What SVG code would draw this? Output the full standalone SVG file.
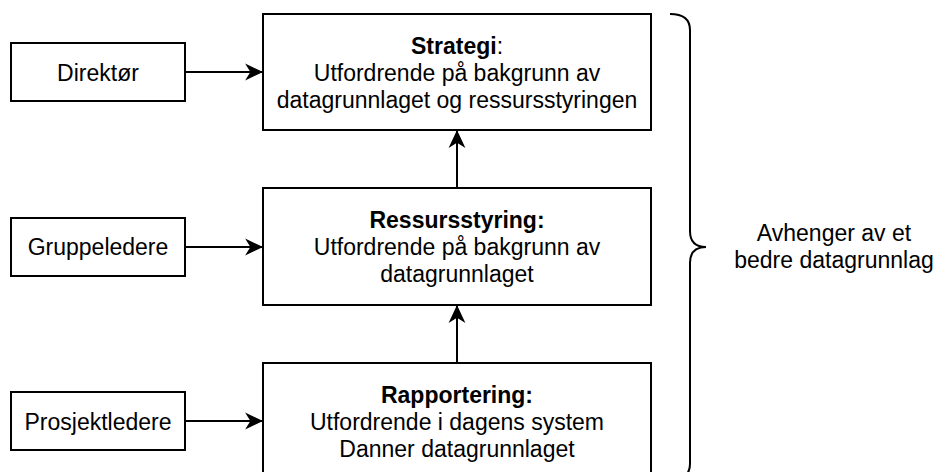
<svg xmlns="http://www.w3.org/2000/svg" width="936" height="472" viewBox="0 0 936 472">
  <style>
    .box { fill: #ffffff; stroke: #000000; stroke-width: 2; }
    .lbl { font-family: "Liberation Sans", Arial, Helvetica, sans-serif; font-size: 23px; fill: #000000; text-anchor: middle; }
    .b { font-weight: bold; }
    .edge { fill: none; stroke: #000000; stroke-width: 2; }
  </style>
  <defs>
    <marker id="arrow" markerUnits="userSpaceOnUse" markerWidth="20" markerHeight="20" viewBox="-18 -9 19 18" refX="0" refY="0" orient="auto">
      <path d="M0,0 L-17,-8 L-12,0 L-17,8 Z" fill="#000000" stroke="none"/>
    </marker>
  </defs>
  <rect width="936" height="472" fill="#ffffff"/>

  <g id="connectors">
    <path class="edge" d="M185,72 L263,72" marker-end="url(#arrow)"/>
    <path class="edge" d="M185,247 L263,247" marker-end="url(#arrow)"/>
    <path class="edge" d="M185,421 L263,421" marker-end="url(#arrow)"/>
    <path class="edge" d="M457,188 L457,130" marker-end="url(#arrow)"/>
    <path class="edge" d="M457,363 L457,305" marker-end="url(#arrow)"/>
  </g>

  <g id="direktor">
    <rect class="box" x="11" y="43" width="174" height="58"/>
    <text class="lbl" x="98" y="81">Direktør</text>
  </g>
  <g id="gruppeledere">
    <rect class="box" x="11" y="218" width="174" height="58"/>
    <text class="lbl" x="98" y="255">Gruppeledere</text>
  </g>
  <g id="prosjektledere">
    <rect class="box" x="11" y="392" width="174" height="58"/>
    <text class="lbl" x="98" y="430">Prosjektledere</text>
  </g>

  <g id="strategi">
    <rect class="box" x="263" y="14" width="388" height="116"/>
    <text class="lbl" x="457" y="54"><tspan class="b">Strategi</tspan>:</text>
    <text class="lbl" x="457" y="81">Utfordrende på bakgrunn av</text>
    <text class="lbl" x="457" y="108">datagrunnlaget og ressursstyringen</text>
  </g>
  <g id="ressursstyring">
    <rect class="box" x="263" y="188" width="388" height="117"/>
    <text class="lbl b" x="457" y="228">Ressursstyring:</text>
    <text class="lbl" x="457" y="255">Utfordrende på bakgrunn av</text>
    <text class="lbl" x="457" y="282">datagrunnlaget</text>
  </g>
  <g id="rapportering">
    <rect class="box" x="263" y="363" width="388" height="117"/>
    <text class="lbl b" x="457" y="403">Rapportering:</text>
    <text class="lbl" x="457" y="430">Utfordrende i dagens system</text>
    <text class="lbl" x="457" y="457">Danner datagrunnlaget</text>
  </g>

  <g id="brace">
    <path class="edge" d="M670,14 Q690,14 690,30 L690,231 Q690,247 706,247 Q690,247 690,263 L690,464 Q690,480 670,480"/>
    <text class="lbl" x="834" y="241">Avhenger av et</text>
    <text class="lbl" x="834" y="268">bedre datagrunnlag</text>
  </g>
</svg>
